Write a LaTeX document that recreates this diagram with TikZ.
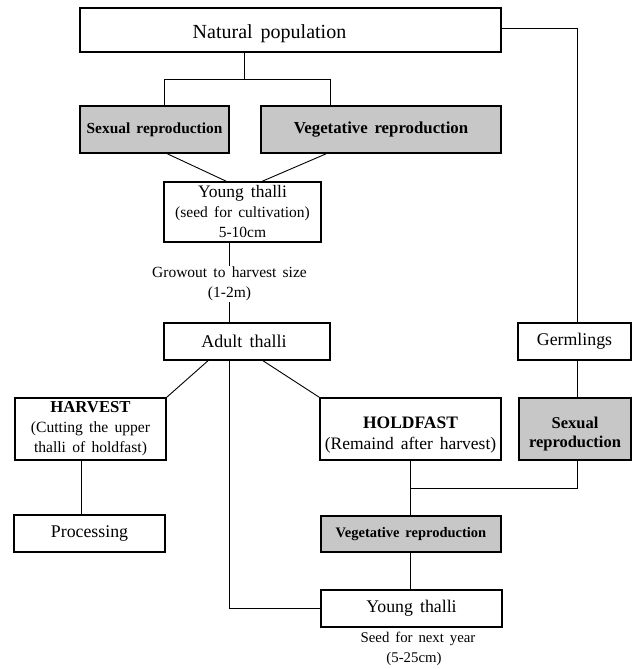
\documentclass[tikz,border=0pt]{standalone}
\usepackage{fontspec}
\setmainfont{Liberation Serif}[WordSpace=1.6]
\newcommand\myfs[2]{\fontsize{#1}{#2}\selectfont}
\newcommand\upstrut[1]{\rule{0pt}{#1}}
\tikzset{
  box/.style={draw, line width=1.5pt, inner sep=0pt, align=center},
  shadebox/.style={box, fill=black!22},
  conn/.style={line width=0.9pt},
}
\begin{document}
\begin{tikzpicture}[x=1pt,y=-1pt]
\useasboundingbox (0,0) rectangle (637,669);
% nodes
\node[box, line width=1.9pt, minimum width=421pt, minimum height=44pt, font=\myfs{20}{24}] (nat) at (290.5,30) {\upstrut{22pt}Natural population\hspace*{42pt}};
\node[shadebox, minimum width=149pt, minimum height=47pt, font=\myfs{15.4}{18}\bfseries] (sex1) at (154.5,129.5) {Sexual reproduction};
\node[shadebox, minimum width=240pt, minimum height=47pt, font=\myfs{16.8}{20}\bfseries] (veg1) at (381,129.5) {Vegetative reproduction};
\node[box, minimum width=157pt, minimum height=60pt, font=\myfs{15.5}{20}] (young1) at (242.5,212) {{\myfs{17.5}{20}Young thalli}\\(seed for cultivation)\\5-10cm};
\node[box, minimum width=166pt, minimum height=37pt, font=\myfs{18}{20}] (adult) at (247,341.5) {Adult thalli\hspace*{6pt}};
\node[box, minimum width=113pt, minimum height=37pt, font=\myfs{17.8}{20}] (germ) at (574.5,341.5) {Germlings};
\node[box, minimum width=151pt, minimum height=62pt, font=\myfs{15.6}{20}] (harv) at (90.5,429) {{\bfseries\myfs{16.7}{20}HARVEST}\\(Cutting the upper\\thalli of holdfast)};
\node[box, minimum width=181pt, minimum height=62pt, font=\myfs{17.5}{21}] (hold) at (410.5,429) {{\bfseries\upstrut{24pt}HOLDFAST}\\(Remaind after harvest)};
\node[shadebox, minimum width=112pt, minimum height=62pt, font=\myfs{16.5}{19}\bfseries] (sex2) at (575,429) {\upstrut{22pt}Sexual\\reproduction};
\node[box, minimum width=151pt, minimum height=37pt, font=\myfs{17.8}{20}] (proc) at (89.5,533.5) {Processing};
\node[shadebox, minimum width=180pt, minimum height=36pt, font=\myfs{14.5}{18}\bfseries] (veg2) at (411,534) {Vegetative reproduction};
\node[box, minimum width=181pt, minimum height=37pt, font=\myfs{17.8}{20}] (young2) at (411.5,608.5) {Young thalli};
\node[font=\myfs{14.8}{20}, align=center, inner sep=0pt] (seed) at (414,649) {\hspace*{8pt}Seed for next year\\(5-25cm)};
% connectors
\coordinate (j1) at (244,79);
\coordinate (j1l) at (164,79);
\coordinate (j1r) at (330,79);
\draw[conn] (nat.south -| j1) -- (j1);
\draw[conn] (j1l |- sex1.north) -- (j1l) -- (j1r) -- (j1r |- veg1.north);
\draw[conn] ([xshift=88pt]sex1.south west) -- ([xshift=63pt]young1.north west);
\draw[conn] ([xshift=66pt]veg1.south west) -- ([xshift=99pt]young1.north west);
\draw[conn] ([xshift=-13.5pt]young1.south) -- ([xshift=-18pt]adult.north);
\draw[conn] ([yshift=2pt]nat.east) -| ([xshift=2.5pt]germ.north);
\draw[conn] ([xshift=2.5pt]germ.south) -- ([xshift=2pt]sex2.north);
\draw[conn] ([xshift=-39pt]adult.south) -- (harv.north east);
\draw[conn] ([xshift=16pt]adult.south) -- (hold.north west);
\draw[conn] ([xshift=-18pt]adult.south) |- (young2.west);
\draw[conn] ([xshift=-9.5pt]harv.south) -- ([xshift=-8.5pt]proc.north);
\coordinate (j2) at (410.5,488);
\draw[conn] (hold.south) -- (j2) -- (veg2.north -| j2);
\draw[conn] ([xshift=2pt]sex2.south) |- (j2);
\draw[conn] (veg2.south -| j2) -- (young2.north -| j2);
% label on the growout line
\node[font=\myfs{15.5}{20}, fill=white, inner sep=1pt, align=center] (grow) at (229.5,284) {Growout to harvest size\\(1-2m)};
\end{tikzpicture}
\end{document}
